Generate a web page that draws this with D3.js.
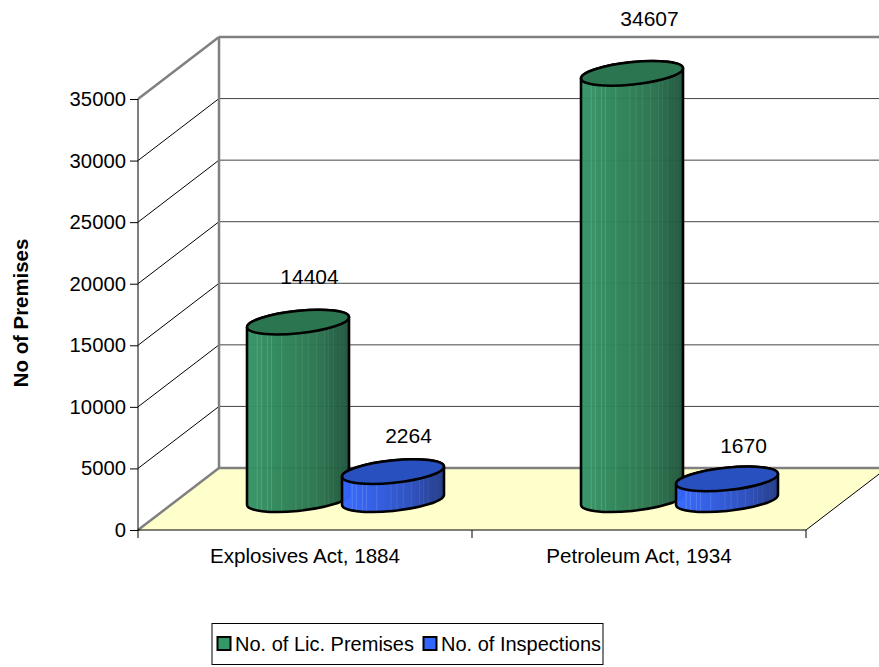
<!DOCTYPE html>
<html lang="en">
	<head>
		<meta charset="utf-8">
		<title>Premises and inspections</title>
		<script src="https://cdnjs.cloudflare.com/ajax/libs/d3/7.1.1/d3.min.js"></script>
		<style type="text/css">
			body { margin: 0; background: white; overflow: hidden; }
			svg { display: block; }
			text { font-family: "Liberation Sans", Arial, sans-serif; fill: black; }
			.yaxis .domain, .xaxis .domain { display: none; }
			.yaxis text { font-family: "Liberation Sans", Arial, sans-serif; font-size: 20.3px; }
			.xaxis text { font-family: "Liberation Sans", Arial, sans-serif; font-size: 20.6px; }
		</style>
	</head>
	<body>
		<div id="chart"></div>
		<script type="text/javascript">
			// chart values
			const categories = ["Explosives Act, 1884", "Petroleum Act, 1934"];
			const seriesNames = ["No. of Lic. Premises", "No. of Inspections"];
			const licPremises = [14404, 34607];
			const inspections = [2264, 1670];
			const yTicks = [0, 5000, 10000, 15000, 20000, 25000, 30000, 35000];

			const width = 879;
			const height = 667;
			const front = {left: 138, right: 806, top: 99, bottom: 530};
			const depth = {x: 81, y: -62}; // offset from front of the box to the back wall

			const svg = d3.select("#chart").append("svg")
				.attr("width", width)
				.attr("height", height);

			const yScale = d3.scaleLinear().domain([0, 35000]).range([front.bottom, front.top]);
			const xScale = d3.scaleBand().domain(categories).range([front.left, front.right]);
			const xSub = d3.scaleBand().domain(seriesNames).range([0, xScale.bandwidth()])
				.paddingInner(0).paddingOuter(0.758);

			const colors = {
				[seriesNames[0]]: {id: "green", stops: ["#349567", "#2d8358", "#29734e", "#1d533b"], top: "#2b7650", swatch: "#339966"},
				[seriesNames[1]]: {id: "blue", stops: ["#3366ff", "#2e5ae2", "#294cbc", "#1f3885"], top: "#2850be", swatch: "#3366ff"}
			};

			const defs = svg.append("defs");
			Object.values(colors).forEach(c => {
				const grad = defs.append("linearGradient").attr("id", "grad-" + c.id);
				c.stops.forEach((s, i) => grad.append("stop").attr("offset", [0, 0.35, 0.7, 1][i]).attr("stop-color", s));
			});

			// floor
			const backBottom = yScale(0) + depth.y;
			svg.append("polygon")
				.attr("points", [[front.left, front.bottom], [front.right, front.bottom],
					[front.right + depth.x, backBottom], [front.left + depth.x, backBottom]].join(" "))
				.attr("fill", "#ffffcc");

			// gridlines on the two walls
			const grid = svg.append("g");
			yTicks.slice(1).forEach(t => {
				grid.append("line")
					.attr("x1", front.left).attr("y1", yScale(t))
					.attr("x2", front.left + depth.x).attr("y2", yScale(t) + depth.y)
					.attr("stroke", t === 35000 ? "#808080" : "black")
					.attr("stroke-width", t === 35000 ? 2.5 : 1);
				grid.append("line")
					.attr("x1", front.left + depth.x).attr("y1", yScale(t) + depth.y)
					.attr("x2", width).attr("y2", yScale(t) + depth.y)
					.attr("stroke", t === 35000 ? "#808080" : "#444")
					.attr("stroke-width", t === 35000 ? 2.5 : 1);
			});

			// back wall edges
			grid.append("line")
				.attr("x1", front.left + depth.x).attr("y1", yScale(35000) + depth.y)
				.attr("x2", front.left + depth.x).attr("y2", backBottom)
				.attr("stroke", "#808080").attr("stroke-width", 2.5);
			grid.append("line")
				.attr("x1", front.left + depth.x).attr("y1", backBottom)
				.attr("x2", width).attr("y2", backBottom)
				.attr("stroke", "#808080").attr("stroke-width", 2.5);
			grid.append("line")
				.attr("x1", front.left).attr("y1", front.bottom)
				.attr("x2", front.left + depth.x).attr("y2", backBottom)
				.attr("stroke", "#808080").attr("stroke-width", 2.5);
			grid.append("line")
				.attr("x1", front.right).attr("y1", front.bottom)
				.attr("x2", front.right + depth.x).attr("y2", backBottom)
				.attr("stroke", "black");

			// axes
			const yAxis = d3.axisLeft(yScale).tickValues(yTicks).tickSize(8).tickPadding(4).tickFormat(d3.format("d"));
			svg.append("g")
				.attr("class", "yaxis")
				.attr("transform", "translate(" + front.left + ",0)")
				.call(yAxis);

			const xAxis = d3.axisBottom(xScale).tickSize(0).tickPadding(18);
			const xg = svg.append("g")
				.attr("class", "xaxis")
				.attr("transform", "translate(0," + front.bottom + ")")
				.call(xAxis);
			[front.left, (front.left + front.right) / 2, front.right].forEach(x => {
				xg.append("line").attr("x1", x).attr("x2", x).attr("y1", 0).attr("y2", 8).attr("stroke", "black");
			});
			svg.append("line")
				.attr("x1", front.left).attr("x2", front.right)
				.attr("y1", front.bottom).attr("y2", front.bottom)
				.attr("stroke", "black");
			svg.append("line")
				.attr("x1", front.left).attr("x2", front.left)
				.attr("y1", front.top).attr("y2", front.bottom)
				.attr("stroke", "black");

			// cylinders
			const ellA = 51.25, ellB = 11.2, ellRot = -5.9;
			const rad = ellRot * Math.PI / 180;
			const t0 = Math.atan2(-ellB * Math.sin(rad), ellA * Math.cos(rad));
			const tipX = ellA * Math.cos(t0) * Math.cos(rad) - ellB * Math.sin(t0) * Math.sin(rad);
			const tipY = ellA * Math.cos(t0) * Math.sin(rad) + ellB * Math.sin(t0) * Math.cos(rad);
			const stripes = [0.1, 0.14, 0.2, 0.24, 0.34, 0.48, 0.54, 0.6, 0.68, 0.76, 0.8, 0.85, 0.92, 0.95];

			// where each value label sits relative to the top of its cylinder
			const labelShift = {14404: [11.5, -38], 34607: [17.5, -47], 2264: [15.5, -29], 1670: [16.5, -26]};

			function drawCylinder(category, series, value, i) {
				const c = colors[series];
				const cx = xScale(category) + xSub(series) + xSub.bandwidth() / 2 + depth.x / 2;
				const baseY = front.bottom + depth.y / 2 + 0.7;
				const topY = yScale(value) + depth.y / 2 + 0.5;
				const arc = (sweep, x, y) => "A" + ellA + "," + ellB + " " + ellRot + " 0 " + sweep + " " + x + "," + y;
				const body = "M" + (cx - tipX) + "," + (topY - tipY)
					+ "L" + (cx - tipX) + "," + (baseY - tipY)
					+ arc(0, cx + tipX, baseY + tipY)
					+ "L" + (cx + tipX) + "," + (topY + tipY)
					+ arc(0, cx - tipX, topY - tipY) + "Z";

				const clipId = "clip-" + c.id + "-" + i;
				defs.append("clipPath").attr("id", clipId).append("path").attr("d", body);

				const g = svg.append("g");
				g.append("path")
					.attr("d", body)
					.attr("fill", "url(#grad-" + c.id + ")")
					.attr("fill-opacity", 0.97);
				g.append("g")
					.attr("clip-path", "url(#" + clipId + ")")
					.selectAll("line")
					.data(stripes)
					.enter()
					.append("line")
						.attr("x1", d => cx - tipX + d * 2 * tipX)
						.attr("x2", d => cx - tipX + d * 2 * tipX)
						.attr("y1", topY - 20)
						.attr("y2", baseY + 20)
						.attr("stroke", "white")
						.attr("stroke-opacity", d => 0.18 * (1 - d * 0.8));
				g.append("path")
					.attr("d", body)
					.attr("fill", "none")
					.attr("stroke", "black")
					.attr("stroke-width", 2.6);
				g.append("ellipse")
					.attr("rx", ellA).attr("ry", ellB)
					.attr("transform", "translate(" + cx + "," + topY + ") rotate(" + ellRot + ")")
					.attr("fill", c.top)
					.attr("stroke", "black")
					.attr("stroke-width", 2.6);
				svg.append("text")
					.attr("class", "value-label")
					.attr("x", cx + labelShift[value][0])
					.attr("y", topY + labelShift[value][1])
					.attr("text-anchor", "middle")
					.attr("font-size", "21px")
					.text(value);
			}

			categories.forEach((cat, i) => {
				drawCylinder(cat, seriesNames[0], licPremises[i], i);
				drawCylinder(cat, seriesNames[1], inspections[i], i);
			});

			// axis title
			svg.append("text")
				.attr("transform", "translate(28,313) rotate(-90)")
				.attr("text-anchor", "middle")
				.attr("font-size", "20.4px")
				.attr("font-weight", "bold")
				.text("No of Premises");

			// legend
			const legend = svg.append("g");
			legend.append("rect")
				.attr("x", 212).attr("y", 623.5).attr("width", 391).attr("height", 41)
				.attr("fill", "white").attr("stroke", "black");
			const legendX = [217.5, 423.5];
			seriesNames.forEach((name, i) => {
				legend.append("rect")
					.attr("x", legendX[i]).attr("y", 637).attr("width", 13).attr("height", 13)
					.attr("fill", colors[name].swatch)
					.attr("stroke", "black").attr("stroke-width", 2);
				legend.append("text")
					.attr("x", legendX[i] + 17.5).attr("y", 651)
					.attr("font-size", "20px")
					.text(name);
			});
		</script>
	</body>
</html>
